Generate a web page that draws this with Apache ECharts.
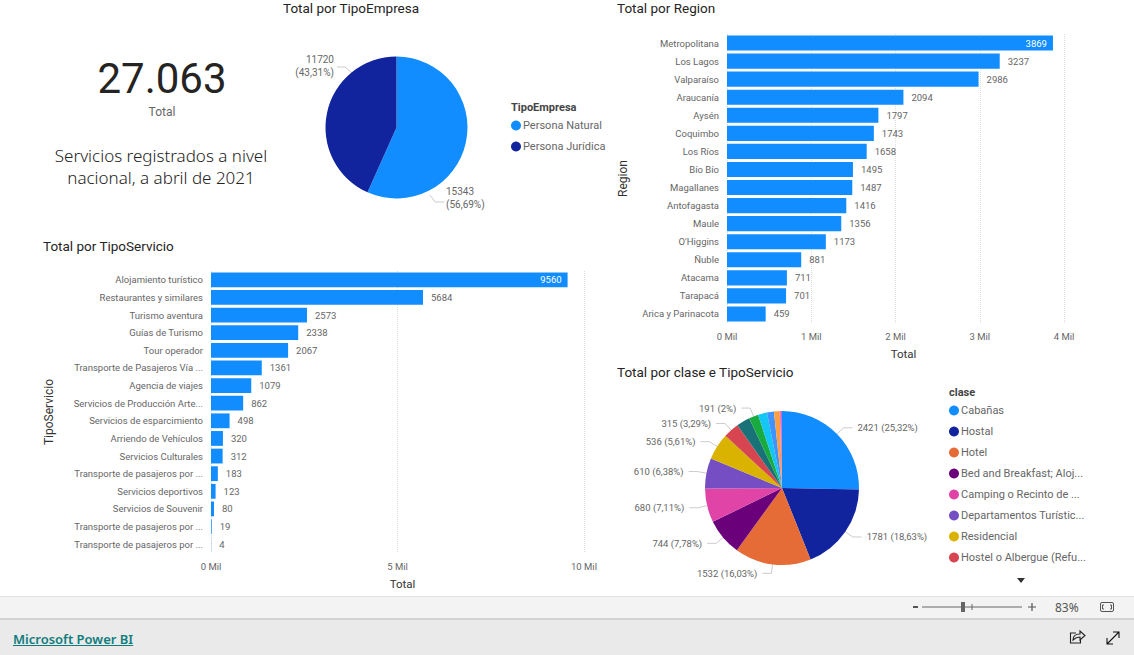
<!DOCTYPE html>
<html><head><meta charset="utf-8">
<style>
html,body{margin:0;padding:0;background:#fff;width:1134px;height:655px;overflow:hidden;font-family:"Noto Sans",sans-serif}
#c{position:absolute;left:0;top:0;width:1134px;height:596px}
#bar1{position:absolute;left:0;top:596px;width:1134px;height:21px;background:#f3f3f3;border-top:1px solid #e2e2e2;border-bottom:2px solid #d2d2d2;box-sizing:content-box}
#bar2{position:absolute;left:0;top:620px;width:1134px;height:35px;background:#eaeaea}
#pb{position:absolute;left:13px;top:630px;font:600 13px "Noto Sans",sans-serif;color:#107c7c;text-decoration:underline}
#z{position:absolute;left:1055px;top:599px;font:12px "Noto Sans",sans-serif;color:#555}
svg.o{position:absolute;left:0;top:0}
</style></head><body>
<div id="c"></div>
<div id="bar1"></div><div id="bar2"></div>
<div id="pb">Microsoft Power BI</div>
<div id="z">83%</div>
<svg class="o" width="1134" height="655" style="pointer-events:none">
<path d="M1017 578h8l-4 5z" fill="#333"/>
<rect x="913" y="606" width="5" height="2" fill="#555"/>
<rect x="922" y="606.5" width="100" height="1" fill="#666"/>
<rect x="961" y="602" width="4" height="10" fill="#666"/>
<rect x="971.5" y="604" width="1" height="6" fill="#666"/>
<path d="M1028 607h8M1032 603v8" stroke="#555" stroke-width="1.2" fill="none"/>
<rect x="1100.5" y="602.5" width="13" height="9" rx="1.5" fill="none" stroke="#555"/>
<path d="M1104 605h-1.5v4h1.5M1110 605h1.5v4h-1.5" fill="none" stroke="#555"/>
<path d="M1076 633h-5.500v10h10v-3M1073 640c0-4 3-6 7-6v-3l5 4.500-5 4.500v-3c-3 0-5 1-7 3z" fill="none" stroke="#222" stroke-width="1.1"/>
<path d="M1107 644l12-12M1113 632h6v6M1107 638v6h6" fill="none" stroke="#111" stroke-width="1.1"/>
</svg>
<script src="https://cdn.jsdelivr.net/npm/echarts@6/dist/echarts.min.js"></script>
<script>
const servicioCats=["Alojamiento turístico","Restaurantes y similares","Turismo aventura","Guías de Turismo","Tour operador","Transporte de Pasajeros Vía ...","Agencia de viajes","Servicios de Producción Arte...","Servicios de esparcimiento","Arriendo de Vehículos","Servicios Culturales","Transporte de pasajeros por ...","Servicios deportivos","Servicios de Souvenir","Transporte de pasajeros por ...","Transporte de pasajeros por ..."];
const servicioVals=[9560,5684,2573,2338,2067,1361,1079,862,498,320,312,183,123,80,19,4];
const regionCats=["Metropolitana","Los Lagos","Valparaíso","Araucanía","Aysén","Coquimbo","Los Ríos","Bío Bío","Magallanes","Antofagasta","Maule","O'Higgins","Ñuble","Atacama","Tarapacá","Arica y Parinacota"];
const regionVals=[3869,3237,2986,2094,1797,1743,1658,1495,1487,1416,1356,1173,881,711,701,459];
const empresaNames=["Persona Natural","Persona Jurídica"];
const empresaVals=[15343,11720];
const claseNames=["Cabañas","Hostal","Hotel","Bed and Breakfast; Aloj...","Camping o Recinto de ...","Departamentos Turístic...","Residencial","Hostel o Albergue (Refu...","Clase 9","Clase 10","Clase 11","Clase 12","Clase 13","Clase 14","Clase 15"];
const claseVals=[2421,1781,1532,744,680,610,536,315,270,191,180,140,115,28,17];
const claseLabelled=[0,1,2,3,4,5,6,7,9];
const palette=["#118DFF","#12239E","#E66C37","#6B007B","#E044A7","#744EC2","#D9B300","#D64550","#197278","#1AAB40","#15C6F4","#4092FF","#FF9F40","#F472B6","#A259D9"];

const bf="Roboto,sans-serif", tf="Roboto,sans-serif", grey="#666";
const T=(text,left,top,extra)=>({text,left,top,textStyle:Object.assign({fontFamily:tf,fontSize:13.500,fontWeight:400,color:"#252423"},extra||{}),padding:0});
const G=(text,x,y,font,fill)=>({type:"text",x,y,silent:true,style:{text,font,fill,textAlign:"center",textVerticalAlign:"middle"}});
const pct=p=>p.percent.toFixed(2).replace(".",",").replace(/,00$/,"");

function barData(vals){return vals.map((v,i)=>({value:v,label:i===0?{position:"insideRight",color:"#fff",distance:6}:{position:"right",color:grey,distance:8}}));}
function xAxis(gi,max,interval,shift){return {gridIndex:gi,type:"value",min:0,max,interval,name:"Total",nameLocation:"middle",nameGap:25,
 nameTextStyle:{fontFamily:tf,fontSize:11.500,fontWeight:400,color:"#333",padding:[0,0,0,shift]},
 axisLine:{show:false},axisTick:{show:false},
 axisLabel:{fontFamily:bf,fontSize:9.500,color:grey,margin:8,formatter:v=>(v/1000)+" Mil"},
 splitLine:{show:true,lineStyle:{type:"dotted",color:"#dcdcdc",width:1}}};}
function yAxis(gi,data,name,gap){return {gridIndex:gi,type:"category",data,inverse:true,name,nameLocation:"middle",nameGap:gap,nameRotate:90,
 nameTextStyle:{fontFamily:tf,fontSize:12,fontWeight:400,color:"#333"},
 axisLine:{show:false},axisTick:{show:false},
 axisLabel:{fontFamily:bf,fontSize:9.500,color:grey,margin:8,interval:0}};}
function barSeries(gi,vals){return {type:"bar",xAxisIndex:gi,yAxisIndex:gi,data:barData(vals),barWidth:"84%",
 itemStyle:{color:"#118DFF"},silent:true,label:{show:true,fontFamily:bf,fontSize:9.500,formatter:"{c}"}};}

const option={animation:false,
 title:[
  T("Total por TipoEmpresa",283,1),
  T("Total por Region",617,1),
  T("Total por TipoServicio",43,239),
  T("Total por clase e TipoServicio",617,365),
  T("TipoEmpresa",511,102,{fontSize:11,fontWeight:700,color:"#444"}),
  T("clase",949,387,{fontSize:11,fontWeight:700,color:"#444"})
 ],
 graphic:[
  G("27.063",162,78,"400 42px Roboto,sans-serif","#252423"),
  G("Total",162,112,"400 12px Roboto,sans-serif","#666"),
  G("Servicios registrados a nivel",161,155,"300 17px 'Noto Sans',sans-serif","#252423"),
  G("nacional, a abril de 2021",161,177,"300 17px 'Noto Sans',sans-serif","#252423")
 ],
 legend:[
  {data:empresaNames,orient:"vertical",left:511,top:120,itemWidth:10,itemHeight:10,itemGap:10,icon:"circle",padding:0,
   textStyle:{fontFamily:bf,fontSize:11,color:grey,padding:[0,0,0,-3]}},
  {data:claseNames.slice(0,8),orient:"vertical",left:949,top:405,itemWidth:10,itemHeight:10,itemGap:10,icon:"circle",padding:0,
   textStyle:{fontFamily:bf,fontSize:11,color:grey,padding:[0,0,0,-3]}}
 ],
 grid:[
  {left:211,top:271,width:373,height:282},
  {left:727,top:34,width:337,height:289}
 ],
 xAxis:[xAxis(0,10000,5000,10),xAxis(1,4000,1000,16)],
 yAxis:[yAxis(0,servicioCats,"TipoServicio",156),yAxis(1,regionCats,"Region",98)],
 series:[
  barSeries(0,servicioVals),
  barSeries(1,regionVals),
  {type:"pie",center:[396.5,127.5],radius:[0,71],startAngle:90,silent:true,percentPrecision:4,avoidLabelOverlap:false,
   data:empresaNames.map((n,i)=>({name:n,value:empresaVals[i],itemStyle:{color:palette[i]}})),
   label:{fontFamily:bf,fontSize:10,color:grey,lineHeight:13,formatter:p=>p.value+"\n("+pct(p)+"%)"},
   labelLine:{lineStyle:{color:"#ccc",width:1}},
   labelLayout:p=>p.dataIndex===0
     ?{x:446,y:198,align:"left",verticalAlign:"middle",labelLinePoints:[[430,195],[435,202],[444,202]]}
     :{x:334,y:66,align:"right",verticalAlign:"middle",labelLinePoints:[[352,73],[345,67],[337,67]]}},
  {type:"pie",center:[782,488],radius:[0,77],startAngle:90,silent:true,percentPrecision:4,avoidLabelOverlap:false,
   data:claseNames.map((n,i)=>{const on=claseLabelled.includes(i);return {name:n,value:claseVals[i],itemStyle:{color:palette[i]},label:{show:on},labelLine:{show:on}};}),
   label:{fontFamily:bf,fontSize:9.500,color:grey,formatter:p=>p.value+" ("+pct(p)+"%)"},
   labelLine:{length:9,length2:9,lineStyle:{color:"#ccc",width:1}}}
 ]
};
const chart=echarts.init(document.getElementById("c"),null,{renderer:"svg",width:1134,height:596});
chart.setOption(option);
</script></body></html>
